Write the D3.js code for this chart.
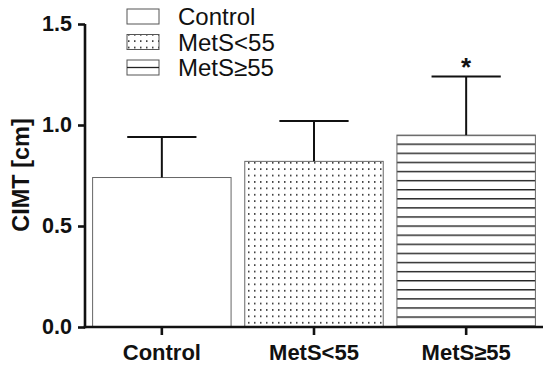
<!DOCTYPE html>
<html>
<head>
<meta charset="utf-8">
<script src="https://cdn.jsdelivr.net/npm/d3@7"></script>
<style>
  body { margin: 0; background: #fff; }
  svg text { font-family: "Liberation Sans", Arial, sans-serif; }
</style>
</head>
<body>
<div id="chart"></div>
<script>
// data
const groups = ["Control", "MetS<55", "MetS\u226555"];
const means = [0.74, 0.82, 0.95];
const sds = [0.20, 0.20, 0.29];
const yTicks = [0.0, 0.5, 1.0, 1.5];
const marks = ["", "", "*"];

var w = 550;
var h = 369;

var svg = d3.select("#chart").append("svg")
  .attr("width", w)
  .attr("height", h);

var defs = svg.append("defs");

// dotted fill
var dots = defs.append("pattern")
  .attr("id", "dots")
  .attr("patternUnits", "userSpaceOnUse")
  .attr("width", 6)
  .attr("height", 6.4);
dots.append("rect").attr("width", 6).attr("height", 6.4).attr("fill", "#fff");
dots.append("rect").attr("x", 2).attr("y", 2).attr("width", 1.5).attr("height", 1.5).attr("fill", "#1a1a1a");

// horizontal lines fill
var hlines = defs.append("pattern")
  .attr("id", "hlines")
  .attr("patternUnits", "userSpaceOnUse")
  .attr("width", 10)
  .attr("height", 9.1);
hlines.append("rect").attr("width", 10).attr("height", 9.1).attr("fill", "#fff");
hlines.append("line").attr("x1", 0).attr("x2", 10).attr("y1", 0.7).attr("y2", 0.7)
  .attr("stroke", "#222").attr("stroke-width", 1.4);

const fills = ["#fff", "url(#dots)", "url(#hlines)"];

///////////////////////////// Scales

var x = d3.scaleBand()
  .domain(groups)
  .range([85, 543])
  .paddingInner(0.09)
  .paddingOuter(0.05);

var y = d3.scaleLinear()
  .domain([0, 1.5])
  .range([327, 24]);

// align the line pattern to the top of its bar
hlines.attr("y", y(means[2]) - 0.7);

///////////////////////////// Bars

svg.selectAll(".bar")
  .data(groups)
  .enter().append("rect")
  .attr("class", "bar")
  .attr("x", d => x(d))
  .attr("y", (d, i) => y(means[i]))
  .attr("width", x.bandwidth())
  .attr("height", (d, i) => y(0) - y(means[i]))
  .attr("fill", (d, i) => fills[i])
  .attr("stroke", "#666")
  .attr("stroke-width", 1);

// error bars (upper only)
var capW = x.bandwidth() / 2;
groups.forEach(function (g, i) {
  var cx = x(g) + x.bandwidth() / 2;
  svg.append("line")
    .attr("x1", cx).attr("x2", cx)
    .attr("y1", y(means[i])).attr("y2", y(means[i] + sds[i]))
    .attr("stroke", "#111").attr("stroke-width", 2);
  svg.append("line")
    .attr("x1", cx - capW / 2).attr("x2", cx + capW / 2)
    .attr("y1", y(means[i] + sds[i])).attr("y2", y(means[i] + sds[i]))
    .attr("stroke", "#111").attr("stroke-width", 2);
  if (marks[i]) {
    svg.append("text")
      .attr("x", cx)
      .attr("y", y(means[i] + sds[i]) - 1)
      .attr("text-anchor", "middle")
      .attr("font-size", 26)
      .attr("font-weight", "bold")
      .attr("fill", "#111")
      .text(marks[i]);
  }
});

///////////////////////////// Axes

var yAxis = svg.append("g")
  .attr("transform", "translate(85,0)")
  .call(d3.axisLeft(y).tickValues(yTicks).tickFormat(d3.format(".1f")).tickSize(7).tickPadding(6));

var xAxis = svg.append("g")
  .attr("transform", "translate(0,327)")
  .call(d3.axisBottom(x).tickSize(8).tickPadding(8).tickSizeOuter(0));

[yAxis, xAxis].forEach(function (a) {
  a.attr("font-size", null);
  a.select(".domain").attr("stroke", "#111").attr("stroke-width", 2.6);
  a.selectAll(".tick line").attr("stroke", "#111").attr("stroke-width", 2.6);
  a.selectAll(".tick text")
    .attr("fill", "#111")
    .attr("font-weight", "bold")
    .style("font-family", '"Liberation Sans", Arial, sans-serif');
});
yAxis.selectAll(".tick text").attr("font-size", 21.5);
xAxis.selectAll(".tick text").attr("font-size", 22).attr("y", 33).attr("dy", 0);
yAxis.select(".domain").attr("d", "M0," + y(1.5) + "V" + (y(0) + 1.3));
xAxis.select(".domain").attr("d", "M" + 83.7 + ",0H543");

svg.append("text")
  .attr("transform", "translate(29,175) rotate(-90)")
  .attr("text-anchor", "middle")
  .attr("font-size", 23.5)
  .attr("font-weight", "bold")
  .attr("fill", "#111")
  .text("CIMT [cm]");

///////////////////////////// Legend

var legend = svg.append("g");
groups.forEach(function (g, i) {
  var ly = 9 + i * 25.5;
  legend.append("rect")
    .attr("x", 127).attr("y", ly)
    .attr("width", 32).attr("height", 15)
    .attr("fill", i === 2 ? "#fff" : fills[i])
    .attr("stroke", "#555").attr("stroke-width", 1);
  if (i === 2) {
    legend.append("line")
      .attr("x1", 127).attr("x2", 159)
      .attr("y1", ly + 7.5).attr("y2", ly + 7.5)
      .attr("stroke", "#222").attr("stroke-width", 1.3);
  }
  legend.append("text")
    .attr("x", 178).attr("y", ly + 16)
    .attr("font-size", 24)
    .attr("fill", "#111")
    .text(g);
});
</script>
</body>
</html>
